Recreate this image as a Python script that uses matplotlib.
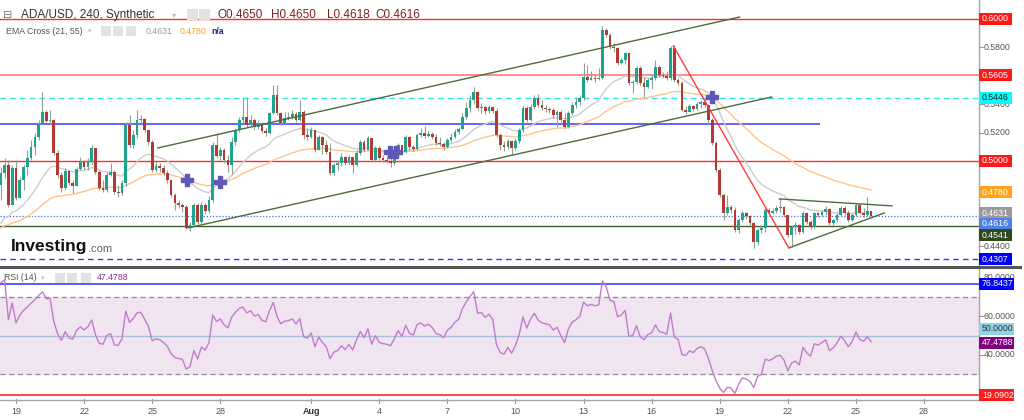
import numpy as np
import pandas as pd
import matplotlib
matplotlib.use("Agg")
import matplotlib.pyplot as plt
import matplotlib.dates as mdates
from matplotlib.patches import Rectangle
from matplotlib.lines import Line2D

plt.rcParams['font.family'] = ['Liberation Sans', 'DejaVu Sans']

# ADA/USD 4h candles, 18 Jul - 25 Aug
start_time = "2022-07-18 08:00"
first_open = 0.4831
close = [
    0.4915, 0.4972, 0.4690, 0.4951, 0.4739, 0.4866, 0.4958, 0.5021, 0.5099, 0.5169,
    0.5261, 0.5345, 0.5282, 0.5289, 0.5056, 0.4901, 0.4810, 0.4930, 0.4845, 0.4824,
    0.4944, 0.4993, 0.4958, 0.5000, 0.5092, 0.4923, 0.4810, 0.4796, 0.4901, 0.4923,
    0.4782, 0.4775, 0.4845, 0.5254, 0.5113, 0.5183, 0.5289, 0.5296, 0.5218, 0.5134,
    0.4937, 0.4965, 0.4951, 0.4915, 0.4866, 0.4761, 0.4704, 0.4690, 0.4676, 0.4528,
    0.4549, 0.4690, 0.4570, 0.4690, 0.4648, 0.4725, 0.5113, 0.5035, 0.5077, 0.5007,
    0.4972, 0.5134, 0.5218, 0.5289, 0.5310, 0.5254, 0.5289, 0.5239, 0.5261, 0.5211,
    0.5197, 0.5338, 0.5465, 0.5338, 0.5268, 0.5303, 0.5310, 0.5331, 0.5289, 0.5345,
    0.5183, 0.5169, 0.5218, 0.5077, 0.5169, 0.5113, 0.5063, 0.4915, 0.4972, 0.4986,
    0.5028, 0.4986, 0.5028, 0.4972, 0.5056, 0.5134, 0.5077, 0.5162, 0.5007, 0.5092,
    0.5021, 0.5007, 0.5000, 0.4986, 0.5042, 0.5113, 0.5063, 0.5169, 0.5099, 0.5085,
    0.5183, 0.5197, 0.5176, 0.5190, 0.5169, 0.5127, 0.5120, 0.5099, 0.5148, 0.5169,
    0.5204, 0.5225, 0.5310, 0.5373, 0.5430, 0.5486, 0.5373, 0.5380, 0.5352, 0.5380,
    0.5352, 0.5183, 0.5113, 0.5099, 0.5141, 0.5092, 0.5141, 0.5218, 0.5373, 0.5289,
    0.5380, 0.5444, 0.5394, 0.5373, 0.5366, 0.5359, 0.5324, 0.5345, 0.5289, 0.5239,
    0.5338, 0.5394, 0.5416, 0.5444, 0.5592, 0.5570, 0.5585, 0.5578, 0.5585, 0.5923,
    0.5887, 0.5803, 0.5796, 0.5690, 0.5711, 0.5761, 0.5549, 0.5556, 0.5655, 0.5549,
    0.5521, 0.5570, 0.5585, 0.5662, 0.5606, 0.5599, 0.5585, 0.5796, 0.5570, 0.5549,
    0.5359, 0.5345, 0.5387, 0.5366, 0.5401, 0.5416, 0.5394, 0.5289, 0.5127, 0.4937,
    0.4761, 0.4634, 0.4676, 0.4655, 0.4514, 0.4584, 0.4634, 0.4613, 0.4563, 0.4430,
    0.4514, 0.4528, 0.4655, 0.4634, 0.4648, 0.4669, 0.4676, 0.4620, 0.4479, 0.4535,
    0.4549, 0.4500, 0.4634, 0.4570, 0.4535, 0.4634, 0.4620, 0.4641, 0.4662, 0.4563,
    0.4584, 0.4620, 0.4669, 0.4634, 0.4584, 0.4620, 0.4690, 0.4634, 0.4620, 0.4650,
    0.4616,
]
high = [
    0.4958, 0.5021, 0.5007, 0.4972, 0.5007, 0.4887, 0.4972, 0.5077, 0.5148, 0.5197,
    0.5289, 0.5486, 0.5359, 0.5359, 0.5296, 0.5077, 0.4923, 0.4951, 0.4937, 0.4866,
    0.4958, 0.5028, 0.5007, 0.5021, 0.5113, 0.5092, 0.4937, 0.4866, 0.4923, 0.4986,
    0.4937, 0.4831, 0.4866, 0.5275, 0.5324, 0.5218, 0.5359, 0.5324, 0.5303, 0.5218,
    0.5148, 0.4993, 0.4986, 0.4972, 0.4937, 0.4866, 0.4775, 0.4725, 0.4704, 0.4690,
    0.4570, 0.4704, 0.4704, 0.4711, 0.4704, 0.4754, 0.5134, 0.5197, 0.5099, 0.5092,
    0.5042, 0.5169, 0.5232, 0.5310, 0.5451, 0.5451, 0.5324, 0.5303, 0.5289, 0.5275,
    0.5232, 0.5345, 0.5535, 0.5535, 0.5345, 0.5345, 0.5345, 0.5359, 0.5345, 0.5430,
    0.5359, 0.5232, 0.5239, 0.5218, 0.5183, 0.5176, 0.5148, 0.5127, 0.4986, 0.5007,
    0.5056, 0.5035, 0.5042, 0.5028, 0.5077, 0.5148, 0.5148, 0.5176, 0.5162, 0.5106,
    0.5106, 0.5042, 0.5035, 0.5035, 0.5063, 0.5127, 0.5113, 0.5183, 0.5176, 0.5113,
    0.5197, 0.5232, 0.5247, 0.5211, 0.5204, 0.5190, 0.5169, 0.5134, 0.5162, 0.5197,
    0.5225, 0.5239, 0.5338, 0.5416, 0.5465, 0.5521, 0.5493, 0.5408, 0.5387, 0.5394,
    0.5387, 0.5373, 0.5197, 0.5141, 0.5155, 0.5148, 0.5162, 0.5232, 0.5394, 0.5387,
    0.5401, 0.5465, 0.5472, 0.5430, 0.5394, 0.5380, 0.5373, 0.5359, 0.5359, 0.5338,
    0.5352, 0.5416, 0.5444, 0.5465, 0.5690, 0.5676, 0.5634, 0.5613, 0.5655, 0.5951,
    0.5937, 0.5902, 0.5831, 0.5803, 0.5725, 0.5768, 0.5768, 0.5570, 0.5669, 0.5669,
    0.5592, 0.5585, 0.5606, 0.5711, 0.5676, 0.5627, 0.5634, 0.5810, 0.5817, 0.5585,
    0.5563, 0.5387, 0.5401, 0.5394, 0.5416, 0.5430, 0.5444, 0.5401, 0.5303, 0.5141,
    0.4951, 0.4775, 0.4761, 0.4690, 0.4676, 0.4599, 0.4648, 0.4641, 0.4620, 0.4570,
    0.4528, 0.4549, 0.4669, 0.4669, 0.4669, 0.4690, 0.4739, 0.4683, 0.4620, 0.4549,
    0.4570, 0.4556, 0.4648, 0.4641, 0.4584, 0.4641, 0.4641, 0.4655, 0.4683, 0.4669,
    0.4592, 0.4634, 0.4683, 0.4683, 0.4655, 0.4634, 0.4704, 0.4690, 0.4669, 0.4746,
    0.4650,
]
low = [
    0.4725, 0.4880, 0.4676, 0.4690, 0.4725, 0.4739, 0.4796, 0.4901, 0.5007, 0.5042,
    0.5148, 0.5254, 0.5275, 0.5261, 0.5042, 0.4880, 0.4782, 0.4796, 0.4831, 0.4775,
    0.4824, 0.4937, 0.4937, 0.4937, 0.4972, 0.4908, 0.4796, 0.4782, 0.4782, 0.4894,
    0.4768, 0.4746, 0.4761, 0.4824, 0.5099, 0.5092, 0.5162, 0.5254, 0.5204, 0.5113,
    0.4923, 0.4923, 0.4923, 0.4901, 0.4845, 0.4746, 0.4655, 0.4669, 0.4641, 0.4521,
    0.4507, 0.4542, 0.4556, 0.4563, 0.4627, 0.4634, 0.4711, 0.5021, 0.5007, 0.4986,
    0.4923, 0.4908, 0.5113, 0.5204, 0.5268, 0.5239, 0.5247, 0.5218, 0.5225, 0.5197,
    0.5176, 0.5190, 0.5331, 0.5324, 0.5254, 0.5261, 0.5289, 0.5296, 0.5275, 0.5282,
    0.5155, 0.5148, 0.5162, 0.5063, 0.5077, 0.5049, 0.5049, 0.4901, 0.4901, 0.4937,
    0.4965, 0.4972, 0.4972, 0.4915, 0.4965, 0.5042, 0.5063, 0.5077, 0.4993, 0.5000,
    0.5007, 0.4993, 0.4986, 0.4958, 0.4972, 0.5021, 0.5049, 0.5056, 0.5077, 0.5070,
    0.5077, 0.5169, 0.5162, 0.5169, 0.5155, 0.5113, 0.5106, 0.5077, 0.5092, 0.5134,
    0.5162, 0.5190, 0.5218, 0.5296, 0.5345, 0.5401, 0.5359, 0.5338, 0.5331, 0.5338,
    0.5338, 0.5169, 0.5077, 0.5070, 0.5085, 0.5042, 0.5077, 0.5127, 0.5204, 0.5275,
    0.5282, 0.5366, 0.5380, 0.5359, 0.5345, 0.5338, 0.5303, 0.5239, 0.5275, 0.5232,
    0.5232, 0.5324, 0.5373, 0.5394, 0.5430, 0.5556, 0.5570, 0.5556, 0.5570, 0.5578,
    0.5873, 0.5789, 0.5768, 0.5676, 0.5683, 0.5683, 0.5535, 0.5479, 0.5542, 0.5535,
    0.5451, 0.5514, 0.5507, 0.5570, 0.5592, 0.5585, 0.5570, 0.5570, 0.5556, 0.5535,
    0.5352, 0.5331, 0.5345, 0.5352, 0.5359, 0.5373, 0.5380, 0.5261, 0.5113, 0.4923,
    0.4746, 0.4584, 0.4620, 0.4634, 0.4500, 0.4493, 0.4570, 0.4592, 0.4542, 0.4387,
    0.4408, 0.4493, 0.4500, 0.4620, 0.4627, 0.4634, 0.4641, 0.4606, 0.4465, 0.4394,
    0.4486, 0.4486, 0.4493, 0.4556, 0.4521, 0.4521, 0.4606, 0.4613, 0.4620, 0.4549,
    0.4549, 0.4570, 0.4613, 0.4620, 0.4570, 0.4577, 0.4613, 0.4627, 0.4606, 0.4613,
    0.4616,
]

# indicator starting values
ema_fast_start = 0.4563
ema_slow_start = 0.4529
rsi_gain_start = 0.0045
rsi_loss_start = 0.0015

# drawn levels and trend lines
level_red = [0.6000, 0.5000]
level_pink = 0.5605
level_cyan = 0.5446
level_blue = 0.5261
level_blue_end = "2022-08-23 10:00"
level_green = 0.4541
level_last = 0.4616
level_low = 0.4307
channel_top = (["2022-07-25 06:00", "2022-08-19 21:00"], [0.5092, 0.6014])
channel_bottom = (["2022-07-26 14:00", "2022-08-21 07:00"], [0.4529, 0.5451])
drop_line = (["2022-08-16 23:00", "2022-08-22 01:00"], [0.5810, 0.4388])
wedge_top = (["2022-08-21 15:00", "2022-08-26 14:00"], [0.4733, 0.4684])
wedge_bottom = (["2022-08-22 01:00", "2022-08-26 06:00"], [0.4388, 0.4634])

rsi_max = 76.8437
rsi_min = 19.0902

tick_dates = ["2022-07-19", "2022-07-22", "2022-07-25", "2022-07-28", "2022-08-01",
              "2022-08-04", "2022-08-07", "2022-08-10", "2022-08-13", "2022-08-16",
              "2022-08-19", "2022-08-22", "2022-08-25", "2022-08-28"]
tick_labels = ["19", "22", "25", "28", "Aug", "4", "7", "10", "13", "16", "19", "22", "25", "28"]
price_ticks = [0.44, 0.46, 0.48, 0.50, 0.52, 0.54, 0.56, 0.58, 0.60]
price_tick_labels_shown = [0.44, 0.52, 0.54, 0.58]   # others sit under the coloured tags
rsi_ticks = [40, 60, 80]

# ---- derived series ----
close = np.array(close)
high = np.array(high)
low = np.array(low)
opens = np.r_[first_open, close[:-1]]
times = pd.date_range(start_time, periods=len(close), freq="4h")
x = mdates.date2num(times)

def ema(values, start, span):
    a = 2 / (span + 1)
    out = [start]
    for v in values[1:]:
        out.append(out[-1] + a * (v - out[-1]))
    return np.array(out)

ema_fast = ema(close, ema_fast_start, 21)
ema_slow = ema(close, ema_slow_start, 55)

rsi = []
ag, al = rsi_gain_start, rsi_loss_start
for o, c in zip(opens, close):
    ch = c - o
    ag = (ag * 13 + max(ch, 0)) / 14
    al = (al * 13 + max(-ch, 0)) / 14
    rsi.append(100 - 100 / (1 + ag / al))
rsi = np.array(rsi)

# ---- figure ----
W, H = 1024, 420
fig = plt.figure(figsize=(W / 100, H / 100), dpi=100)
fig.patch.set_facecolor('white')

def fx(px):
    return px / W

def fy(py):
    return 1 - py / H

ax = fig.add_axes([0, fy(265), fx(979), 265 / H])
ax_rsi = fig.add_axes([0, fy(399), fx(979), 129 / H])

view = mdates.date2num(pd.to_datetime(["2022-07-18 07:05", "2022-08-30 10:05"]))
for a in (ax, ax_rsi):
    a.set_xlim(view)
    for s in a.spines.values():
        s.set_visible(False)
    a.set_yticks([])
    a.set_xticks([])
ax.set_ylim(0.42676, 0.61338)
ax_rsi.set_ylim(17.2, 84.04)

# levels
for lv in level_red:
    ax.axhline(lv, color='#ff2d2d', lw=1.0, zorder=1)
ax.axhline(level_pink, color='#ff7a7a', lw=1.2, zorder=1)
ax.axhline(level_cyan, color='#2ee6e6', lw=1.0, ls=(0, (4, 3)), zorder=1)
ax.hlines(level_blue, view[0], mdates.date2num(pd.Timestamp(level_blue_end)),
          color='#5757ff', lw=1.3, zorder=1)
ax.axhline(level_green, color='#3f5e30', lw=1.0, zorder=1)
ax.axhline(level_last, color='#4a6fe0', lw=0.9, ls=(0, (1, 1.5)), zorder=1)
ax.axhline(level_low, color='#3333ff', lw=1.0, ls=(0, (4, 3)), zorder=1)

for (dts, vals), col in [(channel_top, '#4d6b3d'), (channel_bottom, '#4d6b3d'),
                         (wedge_top, '#4d6b3d'), (wedge_bottom, '#4d6b3d'),
                         (drop_line, '#ff3b3b')]:
    ax.plot(mdates.date2num(pd.to_datetime(dts)), vals, color=col, lw=1.0, zorder=4)

# moving averages
ax.plot(x, ema_fast, color='#cdcdcd', lw=1.0, zorder=2)
ax.plot(x, ema_slow, color='#ffc48a', lw=1.0, zorder=2)

# candles
up = close >= opens
ax.vlines(x, low, high, color='#8fa28f', lw=0.8, zorder=3)
body_h = np.where(np.abs(close - opens) < 0.0003, 0.0003, close - opens)
ax.bar(x[up], body_h[up], bottom=opens[up], width=0.12, color='#1fa38c', zorder=3.5)
ax.bar(x[~up], body_h[~up], bottom=opens[~up], width=0.12, color='#b33a33', zorder=3.5)

# EMA cross markers
d = ema_fast - ema_slow
for k in range(1, len(d)):
    if np.sign(d[k]) != np.sign(d[k - 1]):
        f = d[k - 1] / (d[k - 1] - d[k])
        ax.plot(x[k - 1] + f * (x[k] - x[k - 1]),
                ema_fast[k - 1] + f * (ema_fast[k] - ema_fast[k - 1]),
                marker='P', ms=8, color='#5e58b8', mec='#5e58b8', zorder=6)

# RSI panel
ax_rsi.axhspan(30, 70, color='#f1e4f1', zorder=0)
ax_rsi.axhline(70, color='#8a8a8a', lw=0.9, ls=(0, (4, 3)))
ax_rsi.axhline(30, color='#8a8a8a', lw=0.9, ls=(0, (4, 3)))
ax_rsi.axhline(50, color='#a9c0d6', lw=1.0)
ax_rsi.axhline(rsi_max, color='#3d3dff', lw=1.2)
ax_rsi.axhline(rsi_min, color='#ff2b2b', lw=1.2)
ax_rsi.plot(x, rsi, color='#c07ccb', lw=1.0, zorder=3)

# x axis
tick_x = mdates.date2num(pd.to_datetime(tick_dates))
for tx, lab in zip(tick_x, tick_labels):
    px = ax_rsi.transData.transform((tx, 50))[0]
    fig.add_artist(Line2D([fx(px)] * 2, [fy(399), fy(403)], color='#9a9a9a', lw=0.8))
    fig.text(fx(px), fy(411), lab, ha='center', va='center', fontsize=6.5,
             color='#333' if lab == 'Aug' else '#555',
             fontweight='bold' if lab == 'Aug' else 'normal')

# frame lines
fig.add_artist(Line2D([fx(979)] * 2, [fy(400), 1], color='#a5a5a5', lw=1.0))
fig.add_artist(Line2D([0, fx(979)], [fy(399.5)] * 2, color='#a5a5a5', lw=1.0))
fig.add_artist(Line2D([0, fx(1020)], [fy(267)] * 2, color='#555555', lw=2.2))

# right scale
def py_of(axis, val):
    return H - axis.transData.transform((view[0], val))[1]

for t in price_ticks:
    p = py_of(ax, t)
    fig.add_artist(Line2D([fx(979), fx(983)], [fy(p)] * 2, color='#999', lw=0.8))
    if t in price_tick_labels_shown:
        fig.text(fx(984), fy(p), f"{t:.4f}", va='center', ha='left', fontsize=6.3, color='#555')
for t in rsi_ticks:
    p = py_of(ax_rsi, t)
    fig.add_artist(Line2D([fx(979), fx(983)], [fy(p)] * 2, color='#999', lw=0.8))
    fig.text(fx(984), fy(p), f"{t:.4f}", va='center', ha='left', fontsize=6.3, color='#555')

def tag(p, text, fc, tc, w=33):
    fig.add_artist(Rectangle((fx(979), fy(p + 6)), w / W, 12 / H, transform=fig.transFigure,
                             fc=fc, ec='none', zorder=5))
    fig.text(fx(982), fy(p), text, va='center', ha='left', fontsize=6.3, color=tc, zorder=6)

tag(py_of(ax, 0.6000), "0.6000", '#ff1a1a', 'white')
tag(py_of(ax, 0.5605), "0.5605", '#ff1a1a', 'white')
tag(py_of(ax, 0.5446), "0.5446", '#00ffff', '#222')
tag(py_of(ax, 0.5000), "0.5000", '#ff1a1a', 'white')
tag(py_of(ax, 0.4780), "0.4780", '#ffa31a', 'white')
tag(py_of(ax, 0.4631), "0.4631", '#9a9a9a', 'white')
tag(py_of(ax, 0.4616) + 8, "0.4616", '#4f7fe8', 'white')
tag(py_of(ax, 0.4541) + 9, "0.4541", '#2d4a1f', 'white')
tag(py_of(ax, 0.4307), "0.4307", '#0000ff', 'white')
tag(py_of(ax_rsi, rsi_max), "76.8437", '#0000ff', 'white', w=35)
tag(py_of(ax_rsi, 50) - 7, "50.0000", '#8fd3e6', '#333', w=35)
tag(py_of(ax_rsi, 47.4788) + 2, "47.4788", '#800080', 'white', w=35)
tag(py_of(ax_rsi, rsi_min), "19.0902", '#ff1a1a', 'white', w=35)

# legends / headers
def square(x0, y0, s=11):
    fig.add_artist(Rectangle((fx(x0), fy(y0 + s)), s / W, s / H, transform=fig.transFigure,
                             fc='#e2e2e2', ec='none'))

fig.text(fx(3), fy(15), "⊟", fontsize=8, color='#777', va='center', family=['DejaVu Sans'])
fig.text(fx(21), fy(15), "ADA/USD, 240, Synthetic", fontsize=8.5, color='#333', va='center')
fig.text(fx(172), fy(15), "▾", fontsize=6, color='#bbb', va='center', family=['DejaVu Sans'])
square(187, 9)
square(199, 9)
for xx, s in zip([217, 271, 327, 375], ["O0.4650", "H0.4650", "L0.4618", "C0.4616"]):
    fig.text(fx(xx), fy(15), s, fontsize=8.5, color='#7b2222', va='center')

fig.text(fx(6), fy(31), "EMA Cross (21, 55)", fontsize=6.3, color='#555', va='center')
fig.text(fx(88), fy(31), "▾", fontsize=5, color='#bbb', va='center', family=['DejaVu Sans'])
square(101, 26, 10)
square(113, 26, 10)
square(126, 26, 10)
fig.text(fx(146), fy(31), "0.4631", fontsize=6.3, color='#999', va='center')
fig.text(fx(180), fy(31), "0.4780", fontsize=6.3, color='#ffa31a', va='center')
fig.text(fx(211), fy(31), "n/a", fontsize=6.3, color='#22228a', va='center', fontweight='bold')

fig.text(fx(4), fy(278), "RSI (14)", fontsize=6.3, color='#555', va='center')
fig.text(fx(41), fy(278), "▾", fontsize=5, color='#bbb', va='center', family=['DejaVu Sans'])
square(55, 273, 10)
square(67, 273, 10)
square(81, 273, 10)
fig.text(fx(97), fy(278), "47.4788", fontsize=6.3, color='#8b2f8b', va='center')

fig.text(fx(11), fy(246), "Investing", fontsize=12.5, fontweight='bold', color='#111', va='center')
fig.text(fx(88), fy(249), ".com", fontsize=8, color='#666', va='center')

fig.savefig("out.png", dpi=100)
